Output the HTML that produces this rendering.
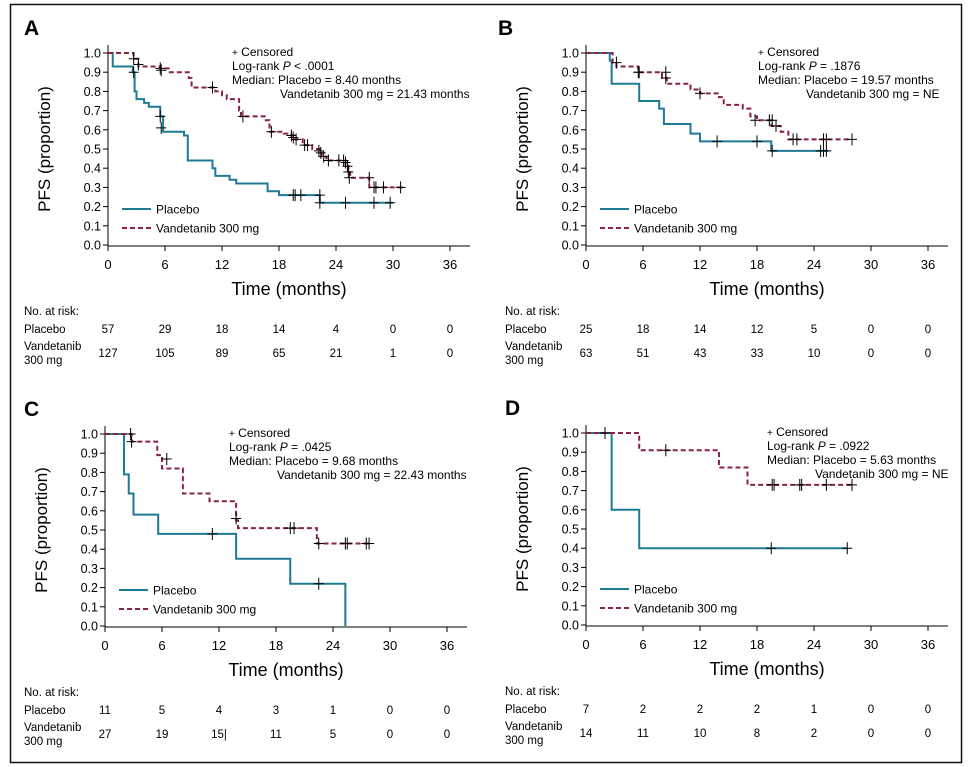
<!DOCTYPE html>
<html><head><meta charset="utf-8"><style>
body{margin:0;background:#fff}
svg{display:block;font-family:"Liberation Sans",Arial,sans-serif}
</style></head><body>
<svg id="s" width="968" height="767" xmlns="http://www.w3.org/2000/svg">
<rect x="10.5" y="4.5" width="951" height="758" fill="none" stroke="#111" stroke-width="1.5"/>
</svg>
<script>
const S=document.getElementById('s');let h='';
const P='#1d7b95',V='#8a2342';
function panel(L,ox,oy,lx,rlx,pl,va,cp,cv,ann,risk){
 const X=m=>ox+m*9.5,Y=p=>oy+192*(1-p);
 h+=`<text x="${lx}" y="${oy-18}" font-size="21" font-weight="bold">${L}</text>`;
 h+=`<line x1="${ox}" y1="${oy-8}" x2="${ox}" y2="${Y(0)+1}" stroke="#000"/><line x1="${ox}" y1="${Y(0)+1}" x2="${ox+362}" y2="${Y(0)+1}" stroke="#000"/>`;
 for(let i=0;i<=10;i++){const y=Y(i/10);h+=`<line x1="${ox-5}" y1="${y}" x2="${ox}" y2="${y}" stroke="#000"/><text x="${ox-7}" y="${y+4.5}" font-size="12.5" text-anchor="end">${(i/10).toFixed(1)}</text>`;}
 for(let t=0;t<=36;t+=6){const x=X(t);h+=`<line x1="${x}" y1="${Y(0)+1}" x2="${x}" y2="${Y(0)+6}" stroke="#000"/><text x="${x}" y="${Y(0)+24}" font-size="13" text-anchor="middle">${t}</text>`;}
 h+=`<text x="${ox+181}" y="${Y(0)+50}" font-size="18" text-anchor="middle">Time (months)</text>`;
 h+=`<text transform="translate(${ox-58},${oy+96}) rotate(-90)" font-size="17" text-anchor="middle">PFS (proportion)</text>`;
 function path(pts,end){let d=`M${X(0)},${Y(1)}`;for(const [t,v] of pts){d+=`H${X(t)}V${Y(v)}`;}d+=`H${X(end[0])}`;if(end[1]!=null)d+=`V${Y(end[1])}`;return d;}
 h+=`<path d="${path(pl[0],pl[1])}" fill="none" stroke="${P}" stroke-width="2"/>`;
 h+=`<path d="${path(va[0],va[1])}" fill="none" stroke="${V}" stroke-width="2" stroke-dasharray="5,3"/>`;
 for(const [t,v] of cp.concat(cv)){const x=X(t),y=Y(v);h+=`<path d="M${x-5},${y}H${x+5}M${x},${y-6}V${y+6}" stroke="#000" stroke-width="1"/>`;}
 const ly=oy+156;
 h+=`<line x1="${ox+14}" y1="${ly}" x2="${ox+43}" y2="${ly}" stroke="${P}" stroke-width="2"/><text x="${ox+48}" y="${ly+4.5}" font-size="12">Placebo</text>`;
 h+=`<line x1="${ox+14}" y1="${ly+19}" x2="${ox+43}" y2="${ly+19}" stroke="${V}" stroke-width="2" stroke-dasharray="5,3"/><text x="${ox+48}" y="${ly+23.5}" font-size="12">Vandetanib 300 mg</text>`;
 const ax=ox+ann[0];
 h+=`<text x="${ax}" y="${oy+3}" font-size="12"><tspan font-size="10">+</tspan> Censored</text>`;
 h+=`<text x="${ax}" y="${oy+17}" font-size="12">Log-rank <tspan font-style="italic">P</tspan> ${ann[1]}</text>`;
 h+=`<text x="${ax}" y="${oy+31}" font-size="12">Median: Placebo = ${ann[2]}</text>`;
 h+=`<text x="${ax+ann[4]}" y="${oy+45}" font-size="12">Vandetanib 300 mg = ${ann[3]}</text>`;
 const ry=Y(0)+70,lx2=rlx;
 h+=`<text x="${lx2}" y="${ry}" font-size="11.5">No. at risk:</text><text x="${lx2}" y="${ry+18}" font-size="11.5">Placebo</text><text x="${lx2}" y="${ry+35}" font-size="11.5">Vandetanib</text><text x="${lx2}" y="${ry+49}" font-size="11.5">300 mg</text>`;
 for(let i=0;i<7;i++){h+=`<text x="${X(i*6)}" y="${ry+18}" font-size="11.5" text-anchor="middle">${risk[0][i]}</text><text x="${X(i*6)}" y="${ry+42}" font-size="11.5" text-anchor="middle">${risk[1][i]}</text>`;}
}
panel('A',108,53,24,24,
 [[[0.5,.93],[2.6,.9],[2.8,.8],[3,.76],[3.8,.74],[4.3,.72],[5.5,.67],[5.8,.59],[8,.57],[8.4,.44],[11,.4],[11.3,.36],[12.8,.34],[13.5,.32],[16.8,.28],[18,.26],[22.3,.22]],[30]],
 [[[2.7,.97],[3.2,.93],[5.5,.92],[6.5,.9],[8.5,.87],[8.8,.82],[11.3,.8],[12,.78],[12.5,.76],[13.8,.7],[14,.67],[16.5,.65],[17,.59],[18.5,.58],[19.3,.57],[19.6,.55],[20.5,.52],[21.5,.5],[22.3,.48],[22.5,.46],[23,.44],[25,.42],[25.3,.38],[25.5,.35],[27.5,.3]],[31]],
 [[2.7,.9],[5.5,.67],[5.6,.61],[19.5,.26],[19.7,.26],[20.3,.26],[22.3,.26],[22.3,.22],[25,.22],[28,.22],[29.7,.22]],
 [[2.7,.97],[3.2,.94],[5.5,.92],[5.6,.91],[11,.82],[14.2,.67],[17.2,.59],[19.3,.57],[19.5,.56],[19.8,.55],[20.7,.52],[21,.52],[22.2,.49],[22.4,.48],[22.7,.46],[23.2,.44],[24.3,.44],[24.8,.44],[25,.43],[25.2,.41],[25.3,.38],[25.4,.35],[27.5,.35],[28,.3],[28.2,.3],[29,.3],[30.8,.3]],
 [124,'< .0001','8.40 months','21.43 months',48],[[57,29,18,14,4,0,0],[127,105,89,65,21,1,0]]);
panel('B',586,53,498,505,
 [[[2.5,.96],[2.7,.84],[5.6,.75],[7.7,.71],[8.2,.63],[11,.58],[12,.54],[19.5,.49]],[25.5]],
 [[[2.8,.95],[3.2,.93],[5.5,.9],[8,.87],[8.5,.84],[11,.81],[12,.79],[14,.77],[14.5,.73],[16.5,.71],[17.3,.67],[18,.65],[19.5,.62],[20.5,.59],[21.3,.55]],[28]],
 [[13.8,.54],[18,.54],[19.6,.49],[24.7,.49],[25,.49],[25.3,.49]],
 [[3.2,.95],[5.5,.9],[5.6,.9],[8.4,.9],[8.4,.87],[12,.79],[17.8,.65],[19.3,.65],[19.6,.65],[20,.62],[21.8,.55],[22.2,.55],[25,.55],[25.3,.55],[28,.55]],
 [172,'= .1876','19.57 months','NE',48],[[25,18,14,12,5,0,0],[63,51,43,33,10,0,0]]);
panel('C',105,434,24,24,
 [[[2,.79],[2.5,.69],[3,.58],[5.6,.48],[13.8,.35],[19.5,.22]],[25.3,0]],
 [[[2.8,.96],[5.5,.89],[6,.82],[8.2,.69],[11,.65],[13.8,.55],[14,.51],[22.3,.43]],[28]],
 [[11.3,.48],[22.5,.22]],
 [[2.7,1],[2.8,.96],[6.5,.87],[13.8,.56],[19.5,.51],[19.9,.51],[22.5,.43],[25.3,.43],[25.5,.43],[27.5,.43],[27.8,.43]],
 [124,'= .0425','9.68 months','22.43 months',48],[[11,5,4,3,1,0,0],[27,19,'15|',11,5,0,0]]);
panel('D',586,433,505,505,
 [[[2.7,.6],[5.6,.4]],[27.5]],
 [[[5.6,.91],[14,.82],[17,.73]],[28]],
 [[19.5,.4],[27.5,.4]],
 [[2,1],[8.4,.91],[19.6,.73],[19.8,.73],[22.5,.73],[22.7,.73],[25.3,.73],[28,.73]],
 [181,'= .0922','5.63 months','NE',48],[[7,2,2,2,1,0,0],[14,11,10,8,2,0,0]]);
S.insertAdjacentHTML('beforeend',h);
</script>
</body></html>
